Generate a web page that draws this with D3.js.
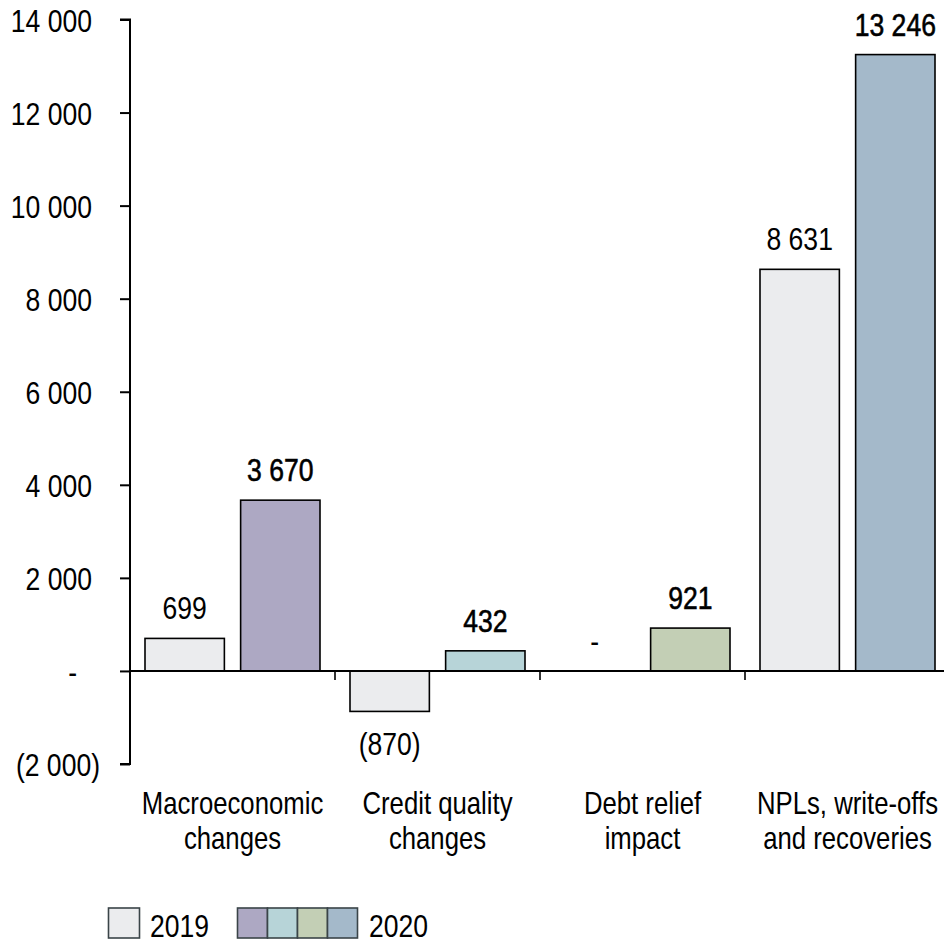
<!DOCTYPE html>
<html>
<head>
<meta charset="utf-8">
<script src="https://cdn.jsdelivr.net/npm/d3@7"></script>
<style>
  html, body { margin: 0; padding: 0; background: #fff; }
  svg text { font-family: "Liberation Sans", Arial, sans-serif; fill: #000; }
</style>
</head>
<body>
<svg id="chart" width="944" height="945"></svg>
<script>
// Loan loss provision drivers, 2019 vs 2020
const categories = ["Macroeconomic changes", "Credit quality changes", "Debt relief impact", "NPLs, write-offs and recoveries"];
const categoryLines = [["Macroeconomic", "changes"], ["Credit quality", "changes"], ["Debt relief", "impact"], ["NPLs, write-offs", "and recoveries"]];
const years = ["2019", "2020"];
const values2019 = [699, -870, 0, 8631];
const values2020 = [3670, 432, 921, 13246];
const yTicks = [-2000, 0, 2000, 4000, 6000, 8000, 10000, 12000, 14000];
const color2019 = "#ebecee";
const colors2020 = ["#ada8c3", "#b7d4d8", "#c3cfb5", "#a4b9ca"];

// narrow type: horizontally compressed sans
const NARROW = 0.83;
function placeText(sel, x, y) {
  return sel.attr("x", 0).attr("y", 0).attr("transform", `translate(${x},${y}) scale(${NARROW},1)`);
}

const svg = d3.select("#chart");

const y = d3.scaleLinear().domain([-2000, 14000]).range([764, 19.5]);
const x = d3.scaleBand().domain(categories).range([130, 950]).padding(0);
const xs = d3.scaleBand().domain(years).range([15, 190]).paddingInner(0.17);

const fmtNum = d3.formatLocale({ decimal: ".", thousands: " ", grouping: [3], currency: ["", ""] }).format(",.0f");
const acct = v => v === 0 ? "-" : (v < 0 ? "(" + fmtNum(-v) + ")" : fmtNum(v));

// Y axis
const yAxis = svg.append("g").attr("transform", "translate(130,0)")
  .call(d3.axisLeft(y).tickValues(yTicks).tickSize(10).tickPadding(29).tickFormat(acct));
yAxis.select(".domain").attr("stroke", "#000").attr("stroke-width", 2).attr("d", `M-10,${y(14000)}H0V${y(-2000)}H-10`);
yAxis.selectAll(".tick line").attr("stroke", "#000").attr("stroke-width", 2);
yAxis.selectAll(".tick text")
  .attr("font-size", 32)
  .attr("font-family", null)
  .each(function (d) {
    const t = d3.select(this);
    const tx = -38 + (d < 0 ? 8 : (d === 0 ? -15 : 0));
    t.attr("dx", null).attr("dy", null);
    placeText(t, tx, 11.5);
  });

// Bars
const rows = categories.map((c, i) => ({ c, i, v19: values2019[i], v20: values2020[i] }));
const groups = svg.append("g").selectAll("g").data(rows).join("g")
  .attr("transform", d => `translate(${x(d.c)},0)`);

groups.each(function (d) {
  const g = d3.select(this);
  const items = [
    { year: "2019", v: d.v19, fill: color2019, bold: false },
    { year: "2020", v: d.v20, fill: colors2020[d.i], bold: true }
  ];
  items.forEach(it => {
    if (it.v !== 0) {
      g.append("rect")
        .attr("x", xs(it.year))
        .attr("width", xs.bandwidth())
        .attr("y", Math.min(y(it.v), y(0)))
        .attr("height", Math.abs(y(it.v) - y(0)))
        .attr("fill", it.fill)
        .attr("stroke", "#000")
        .attr("stroke-width", 1.6);
    }
    const t = g.append("text")
      .attr("text-anchor", "middle")
      .attr("font-size", 32)
      .text(acct(it.v));
    placeText(t, xs(it.year) + xs.bandwidth() / 2, it.v < 0 ? y(it.v) + 44 : y(it.v) - 19);
    if (it.bold) t.attr("stroke", "#000").attr("stroke-width", 0.6);
  });
});

// X axis baseline with category separators
const xAxis = svg.append("g");
xAxis.append("line").attr("x1", 130).attr("x2", 944).attr("y1", y(0)).attr("y2", y(0))
  .attr("stroke", "#000").attr("stroke-width", 2);
xAxis.selectAll("line.sep").data(categories).join("line").attr("class", "sep")
  .attr("x1", d => x(d) + x.bandwidth()).attr("x2", d => x(d) + x.bandwidth())
  .attr("y1", y(0)).attr("y2", y(0) + 9)
  .attr("stroke", "#000").attr("stroke-width", 1.6);

// Category labels
svg.append("g").selectAll("g").data(categories).join("g")
  .each(function (d, i) {
    const g = d3.select(this);
    categoryLines[i].forEach((line, k) => {
      const t = g.append("text").attr("text-anchor", "middle").attr("font-size", 31).text(line);
      placeText(t, x(d) + x.bandwidth() / 2, 814 + k * 35);
    });
  });

// Legend
const legend = svg.append("g");
legend.append("rect").attr("x", 108.5).attr("y", 908).attr("width", 31).attr("height", 30)
  .attr("fill", color2019).attr("stroke", "#3a4448").attr("stroke-width", 1.6);
placeText(legend.append("text").attr("font-size", 32).text("2019"), 150, 936.5);
colors2020.forEach((c, i) => {
  legend.append("rect").attr("x", 237.5 + i * 30).attr("y", 908).attr("width", 30).attr("height", 30)
    .attr("fill", c).attr("stroke", "#3a4448").attr("stroke-width", 1.6);
});
placeText(legend.append("text").attr("font-size", 32).text("2020"), 369, 936.5);
</script>
</body>
</html>
